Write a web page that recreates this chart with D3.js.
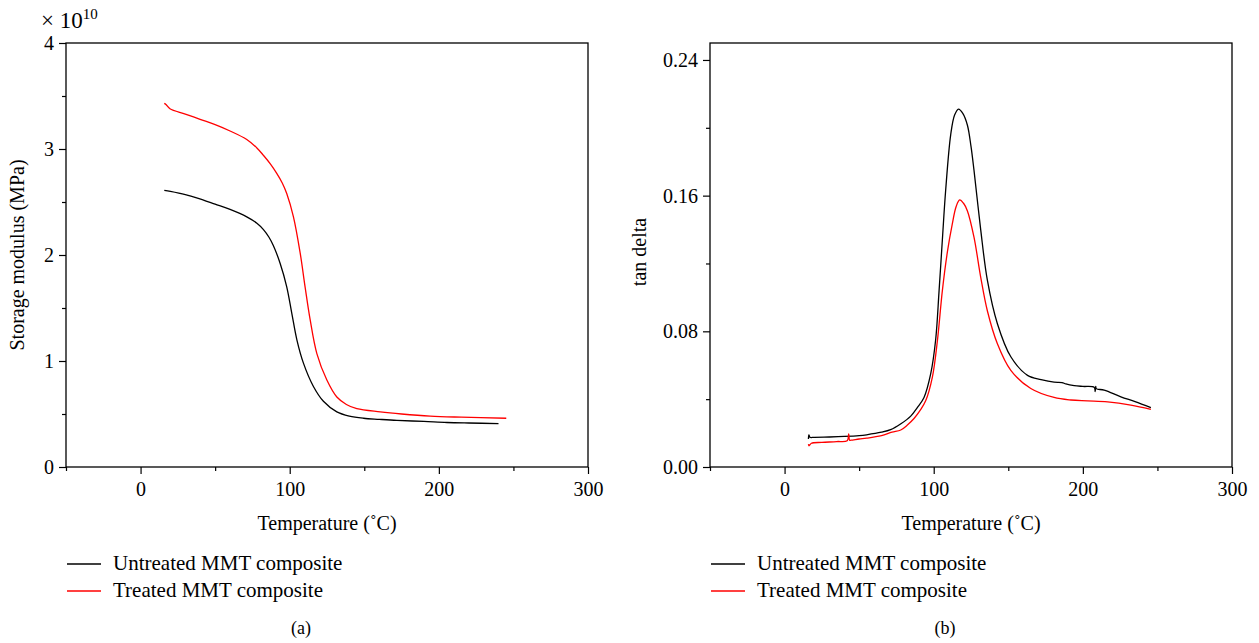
<!DOCTYPE html>
<html><head><meta charset="utf-8">
<script src="https://cdn.jsdelivr.net/npm/d3@7"></script>
<style>body{margin:0;background:#fff}svg{display:block}text{font-family:"Liberation Serif","Times New Roman",serif;fill:#000}</style>
</head><body><svg id="c" width="1259" height="643"></svg>
<script>
// ---- data ----
// (a) storage modulus, in units of 1e10 MPa
const modTempUntreated = [15.9,20,30,37.6,50,60,71.2,78,82.4,86,89,93.6,98,101.4,104.8,109.2,115.9,122.6,131.6,140,149.5,160,171.9,190,205.4,220,240];
const modUntreated     = [2.61,2.60,2.57,2.54,2.48,2.43,2.36,2.30,2.24,2.17,2.09,1.92,1.70,1.45,1.20,0.98,0.76,0.62,0.52,0.48,0.46,0.45,0.44,0.43,0.42,0.415,0.41];
const modTempTreated   = [15.9,17,19.7,30,39.9,50,60,71.2,78,82.4,87,91.3,95,98,102.5,107,110.3,113.7,118.2,124.9,131.6,138,145,160.7,175,194.2,215,245.2];
const modTreated       = [3.43,3.42,3.38,3.33,3.28,3.23,3.17,3.09,3.01,2.94,2.86,2.77,2.68,2.58,2.36,2.02,1.70,1.39,1.07,0.82,0.66,0.59,0.55,0.52,0.50,0.48,0.47,0.46];
// (b) tan delta
const tanTempUntreated = [16,16.3,17,20,30,40,50,55,65,71.1,78,84.6,89,93.5,98,101.3,103.6,105.8,108,111.4,114,116.6,119.5,122.6,125,127,131.5,136,142.7,151.7,162.9,172,180.7,186,188.6,194.2,200,207.6,208.3,208.6,209,214.3,225.5,235,245.6];
const tanUntreated     = [0.0165,0.0190,0.0175,0.0175,0.0177,0.0180,0.0185,0.0190,0.0205,0.022,0.0255,0.030,0.035,0.041,0.055,0.075,0.104,0.134,0.163,0.196,0.2075,0.211,0.2085,0.2015,0.189,0.175,0.140,0.110,0.0845,0.065,0.054,0.0515,0.050,0.0498,0.0490,0.048,0.0475,0.047,0.0445,0.0475,0.0462,0.0453,0.0414,0.0385,0.035];
const tanTempTreated   = [16,16.4,18,25,35,42,43,43.6,44.5,50,55,65,72,77.9,82,86.8,91,94.6,99.1,102.5,105.8,109.2,112.5,115,117.4,120,122.6,127,131.5,136,142.7,151.7,165.1,180.7,192,203.1,216.6,232.2,245.6];
const tanTreated       = [0.0135,0.0125,0.0140,0.0145,0.0150,0.0155,0.0195,0.0158,0.0158,0.0165,0.0170,0.0185,0.0205,0.0218,0.0245,0.0286,0.0335,0.039,0.053,0.0747,0.104,0.127,0.1435,0.1535,0.1575,0.1555,0.151,0.1355,0.112,0.092,0.0727,0.057,0.0463,0.041,0.0395,0.039,0.0384,0.0365,0.034];
const xTicks = [0,100,200,300];
const yTicksA = [0,1,2,3,4];
const yTicksB = [0,0.08,0.16,0.24];
const seriesNames = ["Untreated MMT composite","Treated MMT composite"];
const seriesColors = ["#000000","#ff0000"];

const svg = d3.select("#c");
const FS = 20;

function panel(cfg){
  const g = svg.append("g");
  const x = d3.scaleLinear().domain([-50,300]).range([cfg.left, cfg.right]);
  const y = d3.scaleLinear().domain(cfg.yDomain).range([467,43]);
  g.append("rect").attr("x",cfg.left).attr("y",43).attr("width",cfg.right-cfg.left).attr("height",424)
    .attr("fill","none").attr("stroke","#000").attr("stroke-width",1.3);
  const xa = g.append("g").attr("transform","translate(0,467)");
  xa.call(d3.axisBottom(x).tickValues(xTicks).tickSize(7).tickPadding(8).tickFormat(d3.format("d")));
  xa.append("g").call(d3.axisBottom(x).tickValues([-50,50,150,250]).tickSize(4).tickFormat(""));
  const ya = g.append("g").attr("transform",`translate(${cfg.left},0)`);
  ya.call(d3.axisLeft(y).tickValues(cfg.yTicks).tickSize(7).tickPadding(5).tickFormat(cfg.fmt));
  ya.append("g").call(d3.axisLeft(y).tickValues(cfg.yMinor).tickSize(4).tickFormat(""));
  g.selectAll(".domain").remove();
  g.selectAll(".tick line").attr("stroke","#000").attr("stroke-width",1.2);
  g.selectAll(".tick text").style("font-size",FS+"px").attr("font-family","Liberation Serif");
  const line = d3.line().x(d=>x(d[0])).y(d=>y(d[1])).curve(d3.curveCatmullRom.alpha(0.5));
  cfg.series.forEach((s,i)=>{
    g.append("path").datum(d3.zip(s[0],s[1])).attr("d",line)
      .attr("fill","none").attr("stroke",seriesColors[i]).attr("stroke-width",1.3);
  });
  g.append("text").attr("x",(cfg.left+cfg.right)/2).attr("y",530).attr("text-anchor","middle")
    .style("font-size",FS+"px").text("Temperature (\u02DAC)");
  g.append("text").attr("transform",`translate(${cfg.ytx},${cfg.yty}) rotate(-90)`).attr("text-anchor","middle")
    .style("font-size",FS+"px").text(cfg.ytitle);
  seriesNames.forEach((n,i)=>{
    const yy = 564 + i*27;
    g.append("line").attr("x1",cfg.left+1).attr("x2",cfg.left+35).attr("y1",yy).attr("y2",yy)
      .attr("stroke",seriesColors[i]).attr("stroke-width",1.3);
    g.append("text").attr("x",cfg.left+47).attr("y",yy+6).style("font-size","21px").text(n);
  });
  g.append("text").attr("x",cfg.lab).attr("y",634).attr("text-anchor","middle").style("font-size","18px").text(cfg.tag);
  return g;
}

panel({left:66,right:588,yDomain:[0,4],yTicks:yTicksA,yMinor:[0.5,1.5,2.5,3.5],fmt:d3.format("d"),
  series:[[modTempUntreated,modUntreated],[modTempTreated,modTreated]],
  ytitle:"Storage modulus (MPa)",ytx:24,yty:255,tag:"(a)",lab:301});
panel({left:710,right:1232,yDomain:[0,0.25],yTicks:yTicksB,yMinor:[0.04,0.12,0.20],fmt:d3.format(".2f"),
  series:[[tanTempUntreated,tanUntreated],[tanTempTreated,tanTreated]],
  ytitle:"tan delta",ytx:646,yty:252,tag:"(b)",lab:945});

const ex = svg.append("text").attr("x",41).attr("y",28).style("font-size","23px");
ex.append("tspan").text("\u00D7 10");
ex.append("tspan").attr("dy",-9).style("font-size","15px").text("10");
</script></body></html>
